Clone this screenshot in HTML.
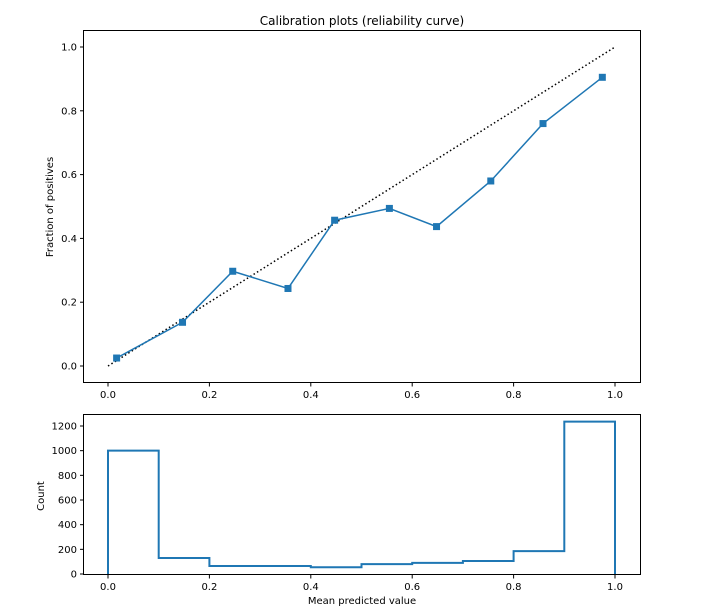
<!DOCTYPE html>
<html><head><meta charset="utf-8"><style>
body{margin:0;background:#fff;}
svg{display:block;font-family:"DejaVu Sans","Liberation Sans",sans-serif;}
</style></head><body>
<svg id="chart" width="710" height="616"></svg>
<script>
const calibX=[0.017,0.147,0.246,0.355,0.447,0.555,0.648,0.755,0.858,0.975];
const calibY=[0.025,0.137,0.297,0.243,0.457,0.494,0.437,0.580,0.760,0.905];
const binEdges=[0,0.1,0.2,0.3,0.4,0.5,0.6,0.7,0.8,0.9,1.0];
const binCounts=[1000,130,65,65,55,80,90,105,185,1235];
const xTicks=[0,0.2,0.4,0.6,0.8,1.0];
const yTicksTop=[0,0.2,0.4,0.6,0.8,1.0];
const yTicksBot=[0,200,400,600,800,1000,1200];

const NS="http://www.w3.org/2000/svg";
const svg=document.getElementById('chart');
function mk(t,a,p){const e=document.createElementNS(NS,t);for(const k in a)e.setAttribute(k,a[k]);(p||svg).appendChild(e);return e;}
const X=v=>108+v*507;
const Yt=v=>366-v*319;
const Yb=v=>574-v*(148/1200);

// top axes
const gTop=mk('g',{});


const t=mk('text',{x:362,y:25,'text-anchor':'middle','font-size':12},gTop);t.textContent='Calibration plots  (reliability curve)';


const d=mk('line',{x1:X(0),y1:Yt(0),x2:X(1),y2:Yt(1),stroke:'#000','stroke-width':1.5,'stroke-dasharray':'1.5,2.5'},gTop);


const pl=mk('polyline',{points:calibX.map((x,i)=>X(x)+','+Yt(calibY[i])).join(' '),fill:'none',stroke:'#1f77b4','stroke-width':1.5},gTop);


calibX.forEach((x,i)=>{const r=mk('rect',{x:X(x)-3.5,y:Yt(calibY[i])-3.5,width:7,height:7,fill:'#1f77b4'},gTop);

});
mk('rect',{x:83.5,y:30.5,width:557,height:352,fill:'none',stroke:'#000','stroke-width':1},gTop);
xTicks.forEach(v=>{mk('line',{x1:X(v),x2:X(v),y1:383,y2:386.5,stroke:'#000'},gTop);
const l=mk('text',{x:X(v),y:398,'text-anchor':'middle','font-size':10},gTop);l.textContent=v.toFixed(1);

});
yTicksTop.forEach(v=>{mk('line',{x1:80,x2:83.5,y1:Yt(v),y2:Yt(v),stroke:'#000'},gTop);
const l=mk('text',{x:77,y:Yt(v)+3.5,'text-anchor':'end','font-size':10},gTop);l.textContent=v.toFixed(1);

});
const yl=mk('text',{x:0,y:0,'text-anchor':'middle','font-size':10,transform:'translate(53,207) rotate(-90)'},gTop);yl.textContent='Fraction of positives';



// bottom axes
const gB=mk('g',{});


let pts=[[X(binEdges[0]),Yb(0)]];
binCounts.forEach((c,i)=>{pts.push([X(binEdges[i]),Yb(c)]);pts.push([X(binEdges[i+1]),Yb(c)]);});
pts.push([X(binEdges[binEdges.length-1]),Yb(0)]);
const h=mk('polyline',{points:pts.map(p=>p.join(',')).join(' '),fill:'none',stroke:'#1f77b4','stroke-width':2},gB);


mk('rect',{x:83.5,y:414.5,width:557,height:160,fill:'none',stroke:'#000','stroke-width':1},gB);
xTicks.forEach(v=>{mk('line',{x1:X(v),x2:X(v),y1:575,y2:578.5,stroke:'#000'},gB);
const l=mk('text',{x:X(v),y:590,'text-anchor':'middle','font-size':10},gB);l.textContent=v.toFixed(1);

});
yTicksBot.forEach(v=>{mk('line',{x1:80,x2:83.5,y1:Yb(v),y2:Yb(v),stroke:'#000'},gB);
const l=mk('text',{x:77,y:Yb(v)+3.5,'text-anchor':'end','font-size':10},gB);l.textContent=v;

});
const cl=mk('text',{x:0,y:0,'text-anchor':'middle','font-size':10,transform:'translate(44,496) rotate(-90)'},gB);cl.textContent='Count';


const xl=mk('text',{x:362,y:604,'text-anchor':'middle','font-size':10},gB);xl.textContent='Mean predicted value';


</script>
</body></html>
